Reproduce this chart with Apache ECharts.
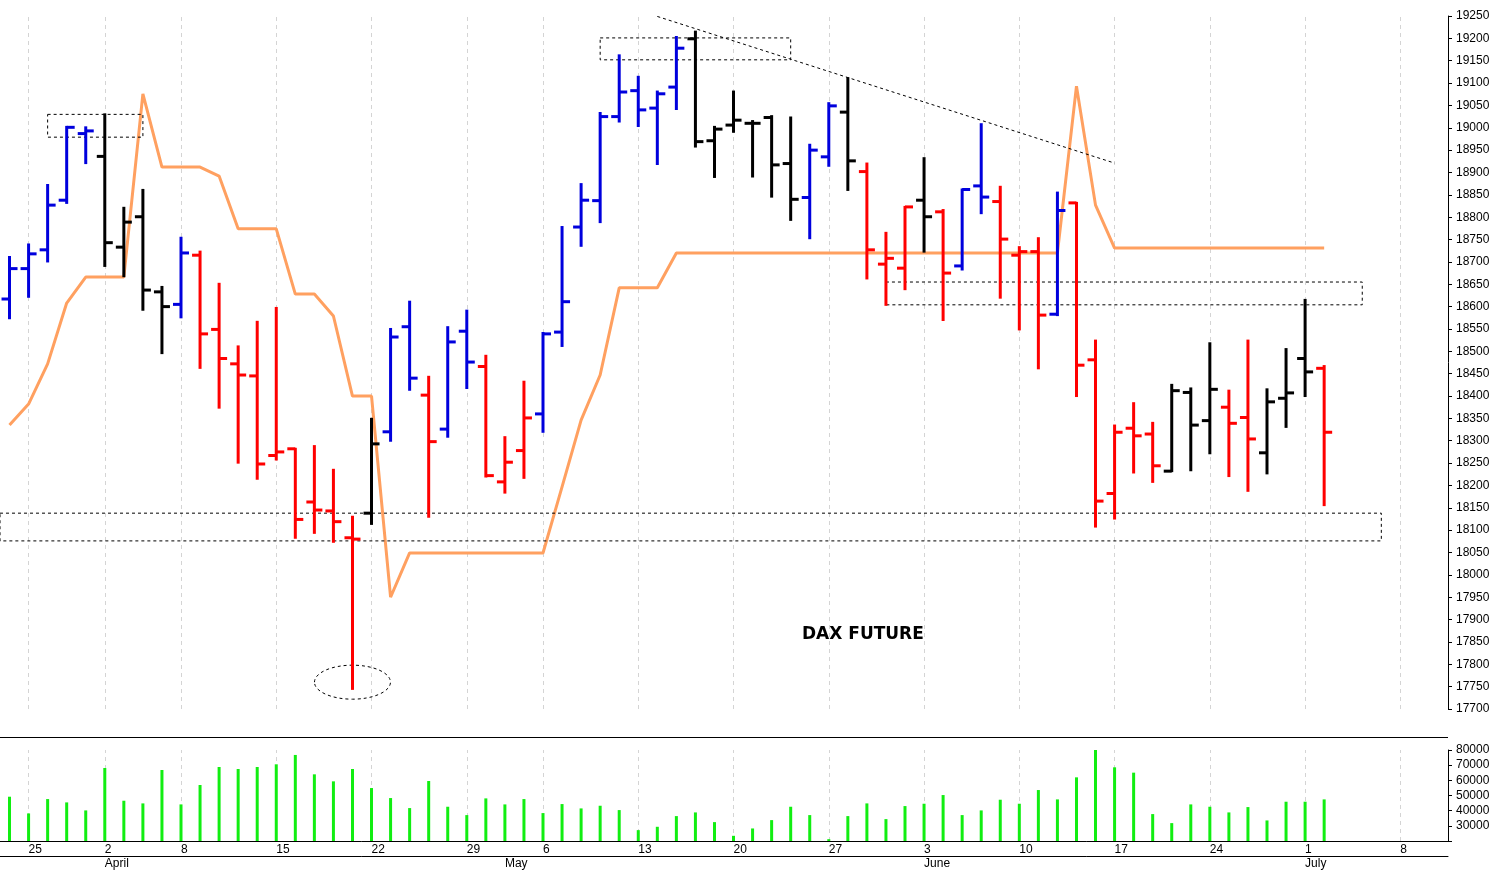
<!DOCTYPE html>
<html>
<head>
<meta charset="utf-8">
<script src="https://cdn.jsdelivr.net/npm/echarts@6/dist/echarts.min.js"></script>
<style>html,body{margin:0;padding:0;background:#fff}#container{width:1497px;height:870px}</style>
</head>
<body>
<div id="container"></div>
<script>
var dates = ['03-22','03-25','03-26','03-27','03-28','04-02','04-03','04-04','04-05',
  '04-08','04-09','04-10','04-11','04-12','04-15','04-16','04-17','04-18','04-19',
  '04-22','04-23','04-24','04-25','04-26','04-29','04-30','05-02','05-03',
  '05-06','05-07','05-08','05-09','05-10','05-13','05-14','05-15','05-16','05-17',
  '05-20','05-21','05-22','05-23','05-24','05-27','05-28','05-29','05-30','05-31',
  '06-03','06-04','06-05','06-06','06-07','06-10','06-11','06-12','06-13','06-14',
  '06-17','06-18','06-19','06-20','06-21','06-24','06-25','06-26','06-27','06-28',
  '07-01','07-02','07-03','07-04','07-05','07-08','07-09','07-10'];
var weekStarts = ['03-25','04-02','04-08','04-15','04-22','04-29','05-06','05-13','05-20',
  '05-27','06-03','06-10','06-17','06-24','07-01','07-08'];
var monthStarts = {'04-02': 'April', '05-02': 'May', '06-03': 'June', '07-01': 'July'};

var opens  = [18617,18685,18727,18838,18987,18936,18733,18801,18633,18605,18715,18549,18472,18445,18267,18282,18163,18143,18083,18138,
  18320,18555,18402,18326,18545,18466,18208,18278,18360,18543,18778,18837,19025,19083,19044,19091,19199,18971,19006,19010,
  19023,18920,18844,18935,19035,18902,18695,18686,18838,18812,18691,18870,18835,18715,18723,18583,18832,18481,18182,18328,
  18315,18232,18408,18345,18375,18352,18273,18395,18484,18462];
var highs  = [18711,18739,18872,19002,19001,19030,18821,18861,18644,18754,18723,18651,18511,18566,18597,18282,18288,18235,18130,18349,
  18550,18611,18443,18554,18591,18490,18308,18432,18541,18778,18874,19033,19162,19114,19081,19203,19215,19002,19081,19015,
  19026,19023,18962,19055,19111,18920,18765,18823,18932,18816,18862,19008,18868,18733,18753,18855,18832,18524,18334,18384,
  18340,18425,18417,18518,18412,18524,18415,18505,18615,18467];
var lows   = [18574,18622,18701,18832,18921,18691,18668,18593,18496,18576,18463,18374,18251,18215,18258,18083,18094,18074,17745,18114,
  18300,18414,18130,18309,18418,18220,18184,18217,18320,18512,18736,18789,19014,19004,18919,19042,18958,18890,18991,18891,
  18846,18794,18753,18915,18861,18663,18604,18639,18723,18570,18683,18809,18620,18549,18462,18581,18400,18108,18126,18229,
  18208,18232,18234,18272,18221,18188,18227,18331,18400,18156];
var closes = [18685,18718,18827,19001,18993,18743,18789,18637,18600,18720,18539,18484,18447,18248,18275,18124,18145,18119,18080,18293,
  18532,18440,18298,18521,18476,18222,18252,18351,18539,18611,18838,19025,19080,19040,19076,19178,18969,18997,19017,19010,
  18917,18840,18950,19049,18926,18727,18708,18823,18801,18675,18862,18845,18751,18723,18581,18815,18469,18165,18319,18311,
  18244,18412,18335,18415,18339,18304,18387,18407,18454,18319];
var barColors = 'bbbbbkkkkbrrrrrrrrrkbbrbbrrrbbbbbbbbkkkkkkbbkrrrkrbbrrrbrrrrrkkkrrkkkr';
var trendLine = [18335,18382,18472,18608,18666,18666,18666,19076,18912,18912,18912,18892,18774,18774,18774,18628,18628,18579,18400,18400,
  17950,18049,18049,18049,18049,18049,18049,18049,18049,18197,18346,18447,18642,18642,18642,18720,18720,18720,18720,18720,
  18720,18720,18720,18720,18720,18720,18720,18720,18720,18720,18720,18720,18720,18720,18720,18720,19093,18827,18731,18731,
  18731,18731,18731,18731,18731,18731,18731,18731,18731,18731];
var volumes = [49200,38180,47655,45450,40166,68143,46554,44792,66822,44130,56908,68804,67483,68804,70566,76735,63958,59332,67483,54925,
  48316,41707,59552,42588,37081,48096,44130,47655,38403,44350,41487,43250,40386,27168,29370,36420,38843,32454,23422,28269,
  33776,42588,37081,21220,36420,44792,34438,43029,44571,50299,37081,40166,47215,44571,53603,47435,61974,83785,68584,65059,
  37742,31794,44130,42588,38843,42368,33556,45893,45893,47435];

var colorMap = {b: '#0000dd', k: '#000000', r: '#ff0000'};
var ohlc = opens.map(function (o, i) { return [i, o, highs[i], lows[i], closes[i]]; });
var weekLines = weekStarts.map(function (d) { return {xAxis: d}; });
var gridLineStyle = {color: '#d4d4d4', type: [4, 4], width: 1};
var boxStyle = {color: 'rgba(0,0,0,0)', borderColor: '#000', borderType: [3, 3], borderWidth: 1};

var myChart = echarts.init(document.getElementById('container'));
var option = {
  animation: false,
  backgroundColor: '#fff',
  textStyle: {fontFamily: 'Liberation Sans'},
  title: {text: 'DAX FUTURE', left: 797, top: 621,
    textStyle: {fontSize: 17, fontWeight: 'bold', color: '#000', fontFamily: 'DejaVu Sans'}},
  grid: [
    {left: 0, right: 49, top: 16, height: 693},
    {left: 0, right: 49, top: 750, height: 91}
  ],
  xAxis: [
    {type: 'category', gridIndex: 0, data: dates, axisLine: {show: false}, axisTick: {show: false}, axisLabel: {show: false}},
    {type: 'category', gridIndex: 1, data: dates,
      axisLine: {lineStyle: {color: '#000'}},
      axisTick: {alignWithLabel: true, interval: 0, inside: true, length: 5, lineStyle: {color: '#000'}},
      axisLabel: {interval: function (i, v) { return weekStarts.indexOf(v) >= 0; },
        formatter: function (v) { return String(+v.slice(3)); },
        align: 'left', margin: 3, fontSize: 12, color: '#000'}},
    {type: 'category', gridIndex: 1, data: dates, position: 'bottom', offset: 15,
      axisLine: {lineStyle: {color: '#000'}},
      axisTick: {alignWithLabel: true, interval: function (i, v) { return !!monthStarts[v]; }, length: 14, inside: true, lineStyle: {color: '#000'}},
      axisLabel: {interval: function (i, v) { return !!monthStarts[v]; },
        formatter: function (v) { return monthStarts[v] || ''; },
        align: 'left', margin: 2, fontSize: 12, color: '#000'}}
  ],
  yAxis: [
    {type: 'value', gridIndex: 0, position: 'right', min: 17700, max: 19250, interval: 50,
      splitLine: {show: false}, axisLine: {show: true, lineStyle: {color: '#000'}},
      axisTick: {show: true, length: 4, lineStyle: {color: '#000'}},
      axisLabel: {fontSize: 12, color: '#000', margin: 8, formatter: function (v) { return String(v); }}},
    {type: 'value', gridIndex: 1, position: 'right', min: 20000, max: 80000, interval: 10000,
      splitLine: {show: false}, axisLine: {show: true, lineStyle: {color: '#000'}},
      axisTick: {show: true, length: 4, lineStyle: {color: '#000'}},
      axisLabel: {fontSize: 12, color: '#000', margin: 8,
        formatter: function (v) { return v === 20000 ? '' : String(v); }}}
  ],
  series: [
    {
      type: 'line', xAxisIndex: 0, yAxisIndex: 0, data: [], z: 0,
      markLine: {silent: true, z: 0, symbol: 'none', label: {show: false}, lineStyle: gridLineStyle, data: weekLines}
    },
    {
      type: 'line', xAxisIndex: 1, yAxisIndex: 1, data: [], z: 0,
      markLine: {silent: true, z: 0, symbol: 'none', label: {show: false}, lineStyle: gridLineStyle, data: weekLines}
    },
    {
      type: 'line', xAxisIndex: 0, yAxisIndex: 0, data: trendLine, symbol: 'none',
      lineStyle: {color: '#ffa060', width: 3}, z: 1
    },
    {
      type: 'custom', xAxisIndex: 0, yAxisIndex: 0, data: ohlc, z: 3,
      encode: {x: 0, y: [1, 2, 3, 4]},
      renderItem: function (params, api) {
        var i = api.value(0);
        var c = colorMap[barColors[params.dataIndex]];
        var pO = api.coord([i, api.value(1)]);
        var pH = api.coord([i, api.value(2)]);
        var pL = api.coord([i, api.value(3)]);
        var pC = api.coord([i, api.value(4)]);
        var st = {stroke: c, lineWidth: 3};
        return {type: 'group', children: [
          {type: 'line', shape: {x1: pH[0], y1: pH[1] - 1, x2: pL[0], y2: pL[1] + 1}, style: st},
          {type: 'line', shape: {x1: pO[0] - 8, y1: pO[1], x2: pO[0], y2: pO[1]}, style: st},
          {type: 'line', shape: {x1: pC[0], y1: pC[1], x2: pC[0] + 8, y2: pC[1]}, style: st}
        ]};
      },
      markLine: {silent: true, z: 2, symbol: 'none', label: {show: false},
        lineStyle: {color: '#000', type: [3, 3], width: 1},
        data: [[{coord: ['05-14', 19249]}, {coord: ['06-17', 18921]}]]},
      markArea: {silent: true, z: 2, itemStyle: boxStyle, data: [
        [{xAxis: '03-26', yAxis: 19030}, {xAxis: '04-04', yAxis: 18979}],
        [{xAxis: '05-09', yAxis: 19201}, {xAxis: '05-23', yAxis: 19152}],
        [{xAxis: '05-30', yAxis: 18655}, {xAxis: '07-04', yAxis: 18604}],
        [{x: 0, yAxis: 18138}, {xAxis: '07-05', yAxis: 18076}]
      ]}
    },
    {
      type: 'bar', xAxisIndex: 1, yAxisIndex: 1, data: volumes, barWidth: 3, z: 3,
      itemStyle: {color: '#11ee11'}
    }
  ]
};
myChart.setOption(option);

// separator between price and volume panels, ellipse around the low
var low = myChart.convertToPixel({xAxisIndex: 0, yAxisIndex: 0}, ['04-19', 17760]);
myChart.setOption({graphic: [
  {type: 'line', shape: {x1: 0, y1: 737.5, x2: 1448, y2: 737.5}, style: {stroke: '#000', lineWidth: 1}},
  {type: 'ellipse', shape: {cx: low[0], cy: low[1], rx: 38, ry: 17},
    style: {fill: 'none', stroke: '#000', lineDash: [3, 3], lineWidth: 1}}
]});
</script>
</body>
</html>
